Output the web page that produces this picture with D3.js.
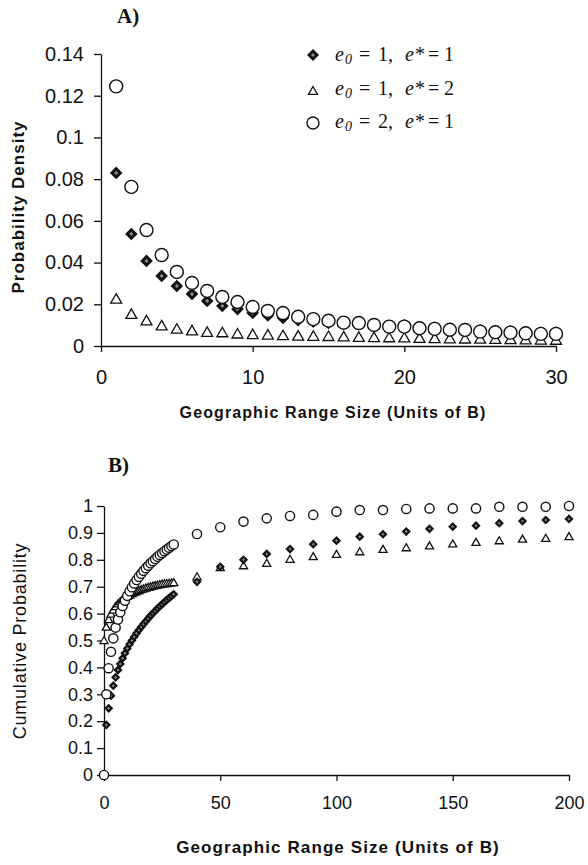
<!DOCTYPE html>
<html>
<head>
<meta charset="utf-8">
<script src="https://cdn.jsdelivr.net/npm/d3@7"></script>
<style>
  body { margin: 0; background: #fff; }
  text { fill: #111; }
  .sans { font-family: "Liberation Sans", Arial, sans-serif; }
  .serif { font-family: "Liberation Serif", "Times New Roman", serif; }
</style>
</head>
<body>
<script>
// panel A: probability density, x = 1..30
var sizeA = [1, 2, 3, 4, 5, 6, 7, 8, 9, 10, 11, 12, 13, 14, 15, 16, 17, 18, 19, 20,
             21, 22, 23, 24, 25, 26, 27, 28, 29, 30];
var densE1S1 = [0.083, 0.0537, 0.0408, 0.0336, 0.0288, 0.0249, 0.0216, 0.0192, 0.0177, 0.0158,
                0.0146, 0.0134, 0.0124, 0.0116, 0.0110, 0.0104, 0.0104, 0.0098, 0.0093, 0.0099,
                0.0091, 0.0088, 0.0084, 0.0083, 0.0075, 0.0072, 0.0070, 0.0067, 0.0064, 0.0064];
var densE1S2 = [0.0225, 0.0152, 0.0121, 0.0097, 0.0081, 0.0073, 0.0066, 0.0064, 0.0058, 0.0055,
                0.0053, 0.0050, 0.0048, 0.0047, 0.0046, 0.0044, 0.0042, 0.0041, 0.0040, 0.0039,
                0.0037, 0.0036, 0.0035, 0.0034, 0.0033, 0.0032, 0.0031, 0.0030, 0.0029, 0.0028];
var densE2S1 = [0.1245, 0.0763, 0.0556, 0.0436, 0.0355, 0.0302, 0.0264, 0.0235, 0.0211, 0.0187,
                0.0168, 0.0158, 0.0140, 0.0129, 0.0121, 0.0112, 0.0110, 0.0101, 0.0093, 0.0093,
                0.0085, 0.0082, 0.0078, 0.0077, 0.0069, 0.0066, 0.0064, 0.0061, 0.0058, 0.0058];
var ticksAx = [0, 10, 20, 30];
var ticksAy = [0, 0.02, 0.04, 0.06, 0.08, 0.1, 0.12, 0.14];

// panel B: cumulative probability
var sizeB = [0, 1, 2, 3, 4, 5, 6, 7, 8, 9, 10, 11, 12, 13, 14, 15, 16, 17, 18, 19, 20,
             21, 22, 23, 24, 25, 26, 27, 28, 29, 30,
             40, 50, 60, 70, 80, 90, 100, 110, 120, 130, 140, 150, 160, 170, 180, 190, 200];
var cumE1S1 = [0, 0.186, 0.248, 0.295, 0.332, 0.363, 0.39, 0.413, 0.434, 0.453, 0.47,
               0.486, 0.50, 0.514, 0.527, 0.539, 0.55, 0.561, 0.572, 0.582, 0.592,
               0.601, 0.61, 0.619, 0.627, 0.635, 0.643, 0.651, 0.658, 0.665, 0.672,
               0.718, 0.774, 0.80, 0.822, 0.840, 0.858, 0.871, 0.886, 0.895, 0.905,
               0.915, 0.923, 0.927, 0.936, 0.944, 0.948, 0.952];
var cumE1S2 = [0.5, 0.55, 0.578, 0.598, 0.613, 0.626, 0.636, 0.645, 0.652, 0.658, 0.664,
               0.669, 0.674, 0.678, 0.682, 0.686, 0.689, 0.692, 0.695, 0.698, 0.700,
               0.702, 0.704, 0.706, 0.708, 0.71, 0.711, 0.712, 0.713, 0.714, 0.715,
               0.737, 0.771, 0.778, 0.787, 0.802, 0.812, 0.820, 0.830, 0.839, 0.845,
               0.852, 0.859, 0.865, 0.871, 0.877, 0.880, 0.886];
var cumE2S1 = [0, 0.30, 0.397, 0.458, 0.508, 0.548, 0.578, 0.605, 0.628, 0.648, 0.666,
               0.683, 0.698, 0.712, 0.725, 0.737, 0.748, 0.759, 0.769, 0.778, 0.787,
               0.795, 0.803, 0.811, 0.818, 0.825, 0.832, 0.838, 0.845, 0.851, 0.857,
               0.896, 0.921, 0.942, 0.954, 0.963, 0.967, 0.979, 0.985, 0.985, 0.989,
               0.991, 0.991, 0.991, 0.997, 0.997, 0.997, 1.0];
var ticksBx = [0, 50, 100, 150, 200];
var ticksBy = [0, 0.1, 0.2, 0.3, 0.4, 0.5, 0.6, 0.7, 0.8, 0.9, 1];

var legendRows = [
  { shape: "diamond", e0: "1", es: "1" },
  { shape: "triangle", e0: "1", es: "2" },
  { shape: "circle", e0: "2", es: "1" }
];

var svg = d3.select("body").append("svg")
    .attr("width", 588)
    .attr("height", 865);

svg.append("rect").attr("width", 588).attr("height", 865).attr("fill", "#fff");

function fmt(d) {
  return d === 0 ? "0" : String(+d.toFixed(2));
}

// draw one marker of the given shape at px,py
function marker(g, shape, px, py, s) {
  if (shape === "circle") {
    g.append("circle").attr("cx", px).attr("cy", py).attr("r", s)
      .attr("fill", "#fff").attr("stroke", "#111").attr("stroke-width", 1.4);
  } else if (shape === "triangle") {
    g.append("path")
      .attr("d", d3.symbol(d3.symbolTriangle, s * s * 1.35)())
      .attr("transform", "translate(" + px + "," + (py + s * 0.15) + ")")
      .attr("fill", "#fff").attr("stroke", "#111").attr("stroke-width", 1.3);
  } else {
    var t = "translate(" + px + "," + py + ") rotate(45)";
    g.append("path")
      .attr("d", d3.symbol(d3.symbolSquare, s * s * 2)())
      .attr("transform", t).attr("fill", "#111");
    g.append("path")
      .attr("d", d3.symbol(d3.symbolSquare, s * s * 0.22)())
      .attr("transform", t).attr("fill", "#8a8a8a");
  }
}

function drawSeries(g, xs, ys, x, y, shape, s) {
  for (var i = 0; i < xs.length; i++) {
    marker(g, shape, x(xs[i]), y(ys[i]), s);
  }
}

function styleAxis(g, size) {
  g.selectAll("path, line").attr("stroke", "#111").attr("stroke-width", 1.3);
  g.selectAll("text").attr("class", "sans").style("font-size", size + "px").attr("fill", "#111");
}

// ---------- panel A ----------
var xA = d3.scaleLinear().domain([0, 30]).range([101, 556]);
var yA = d3.scaleLinear().domain([0, 0.14]).range([346, 54]);

var gA = svg.append("g");
gA.append("g")
  .attr("transform", "translate(0,346)")
  .call(d3.axisBottom(xA).tickValues(ticksAx).tickFormat(fmt).tickSize(6).tickSizeOuter(0).tickPadding(18))
  .call(styleAxis, 20);
gA.append("g")
  .attr("transform", "translate(101,0)")
  .call(d3.axisLeft(yA).tickValues(ticksAy).tickFormat(fmt).tickSize(7).tickSizeOuter(0).tickPadding(10))
  .call(styleAxis, 20);

var mA = gA.append("g");
drawSeries(mA, sizeA, densE1S2, xA, yA, "triangle", 6.2);
drawSeries(mA, sizeA, densE1S1, xA, yA, "diamond", 6.3);
drawSeries(mA, sizeA, densE2S1, xA, yA, "circle", 6.5);

gA.append("text").attr("class", "serif")
  .attr("x", 117).attr("y", 23)
  .style("font-size", "21px").style("font-weight", "bold")
  .text("A)");

gA.append("text").attr("class", "sans")
  .attr("x", 333).attr("y", 418).attr("text-anchor", "middle")
  .style("font-size", "16px").style("font-weight", "bold").style("letter-spacing", "1.1px")
  .text("Geographic Range Size (Units of B)");

gA.append("text").attr("class", "sans")
  .attr("transform", "translate(24,207) rotate(-90)").attr("text-anchor", "middle")
  .style("font-size", "17px").style("font-weight", "bold").style("letter-spacing", "1px")
  .text("Probability Density");

// legend
var legY = [55, 91, 123];
var legBase = [61, 95, 128];
legendRows.forEach(function(r, i) {
  marker(gA, r.shape, 313, legY[i], r.shape === "triangle" ? 5.2 : 6);
  var t = gA.append("text").attr("class", "serif")
    .attr("y", legBase[i]).style("font-size", "20px");
  t.append("tspan").attr("x", 335).style("font-style", "italic").text("e");
  t.append("tspan").attr("x", 345).attr("dy", 3).style("font-style", "italic").style("font-size", "14px").text("0");
  t.append("tspan").attr("x", 359).attr("dy", -3).text("=");
  t.append("tspan").attr("x", 378).text(r.e0 + ",");
  t.append("tspan").attr("x", 405).style("font-style", "italic").text("e");
  t.append("tspan").attr("x", 415).text("*");
  t.append("tspan").attr("x", 428).text("=");
  t.append("tspan").attr("x", 444).text(r.es);
});

// ---------- panel B ----------
var xB = d3.scaleLinear().domain([0, 200]).range([104, 569]);
var yB = d3.scaleLinear().domain([0, 1]).range([775, 506]);

var gB = svg.append("g");
gB.append("g")
  .attr("transform", "translate(0,775)")
  .call(d3.axisBottom(xB).tickValues(ticksBx).tickFormat(fmt).tickSize(6).tickSizeOuter(0).tickPadding(15))
  .call(styleAxis, 18);
gB.append("g")
  .attr("transform", "translate(104,0)")
  .call(d3.axisLeft(yB).tickValues(ticksBy).tickFormat(fmt).tickSize(7).tickSizeOuter(0).tickPadding(4))
  .call(styleAxis, 18);

var mB = gB.append("g");
drawSeries(mB, sizeB, cumE1S2, xB, yB, "triangle", 4.6);
drawSeries(mB, sizeB, cumE1S1, xB, yB, "diamond", 4.6);
drawSeries(mB, sizeB, cumE2S1, xB, yB, "circle", 4.6);

gB.append("text").attr("class", "serif")
  .attr("x", 108).attr("y", 472)
  .style("font-size", "21px").style("font-weight", "bold")
  .text("B)");

gB.append("text").attr("class", "sans")
  .attr("x", 338).attr("y", 853).attr("text-anchor", "middle")
  .style("font-size", "17px").style("font-weight", "bold").style("letter-spacing", "1.1px")
  .text("Geographic Range Size (Units of B)");

gB.append("text").attr("class", "sans")
  .attr("transform", "translate(26,641) rotate(-90)").attr("text-anchor", "middle")
  .style("font-size", "18px").style("letter-spacing", "0.8px")
  .text("Cumulative Probability");
</script>
</body>
</html>
